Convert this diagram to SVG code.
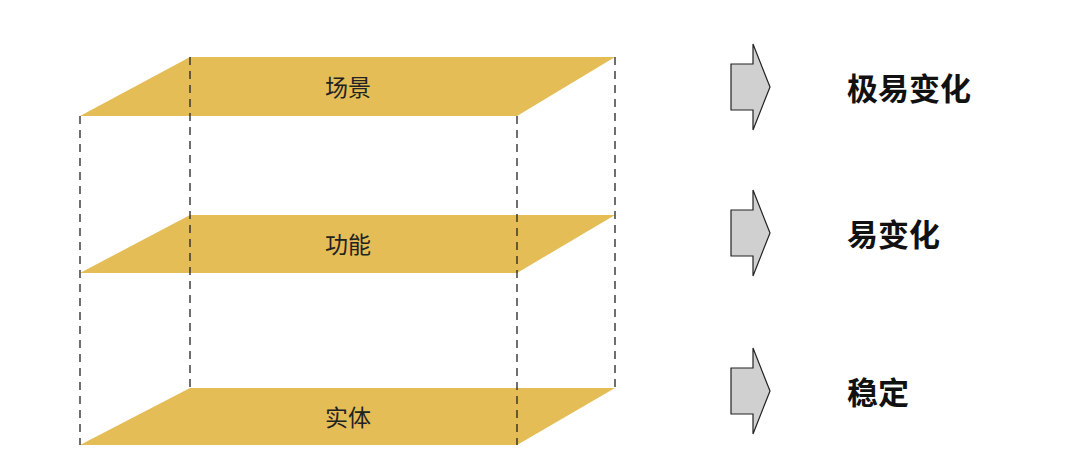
<svg xmlns="http://www.w3.org/2000/svg" width="1080" height="473" viewBox="0 0 1080 473">
<style>
.layer{fill:#E5BD56}
.dash{stroke:#222;stroke-width:1.3;stroke-dasharray:8,6;fill:none}
.arr{fill:#D0D0D0;stroke:#222;stroke-width:1.2}
.lbl{font-family:"Noto Sans CJK SC",sans-serif;font-size:23px;fill:#222;text-anchor:middle;dominant-baseline:central}
.big{font-family:"Noto Sans CJK SC",sans-serif;font-size:31px;font-weight:bold;fill:#111;dominant-baseline:central}
</style>
<rect width="1080" height="473" fill="#fff"/>
<g id="scene"><polygon class="layer" points="80,116 190,57 615,57 517,116"/><text class="lbl" x="348" y="86">场景</text></g>
<g id="function"><polygon class="layer" points="80,273 190,215 615,215 517,273"/><text class="lbl" x="348" y="243">功能</text></g>
<g id="entity"><polygon class="layer" points="80,445 190,388 615,388 517,445"/><text class="lbl" x="348" y="416">实体</text></g>
<g id="connectors">
<line class="dash" x1="80" y1="116" x2="80" y2="445"/>
<line class="dash" x1="190" y1="57" x2="190" y2="388"/>
<line class="dash" x1="517" y1="116" x2="517" y2="445"/>
<line class="dash" x1="615" y1="57" x2="615" y2="388"/>
</g>
<g id="arrow1"><polygon class="arr" points="731,64 753,64 753,44 770,87 753,130 753,110 731,110"/><text class="big" x="847" y="86">极易变化</text></g>
<g id="arrow2"><polygon class="arr" points="731,210 753,210 753,190 770,233 753,276 753,256 731,256"/><text class="big" x="847" y="232">易变化</text></g>
<g id="arrow3"><polygon class="arr" points="731,368 753,368 753,348 770,391 753,434 753,414 731,414"/><text class="big" x="847" y="390">稳定</text></g>
</svg>
